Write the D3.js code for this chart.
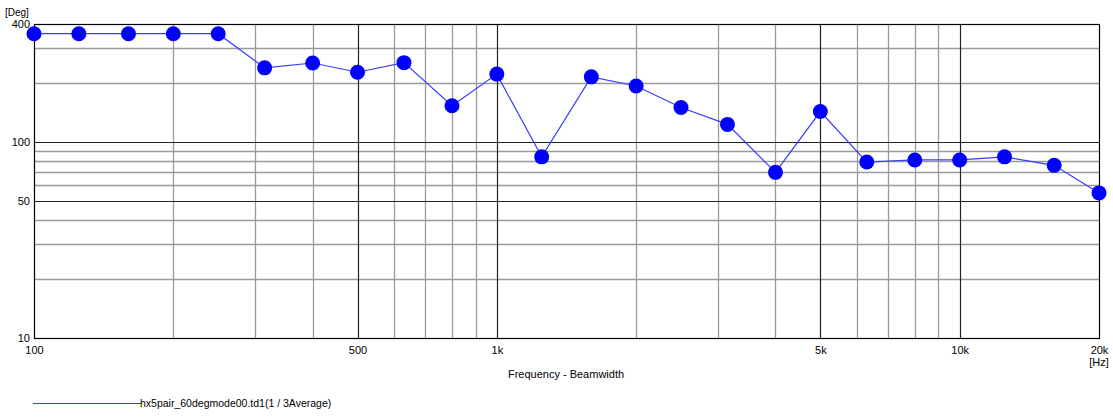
<!DOCTYPE html>
<html><head><meta charset="utf-8">
<script src="https://cdn.jsdelivr.net/npm/d3@7"></script>
<style>body{margin:0;background:#fff}svg{display:block}text{font-family:"Liberation Sans",Arial,sans-serif;font-size:11px;fill:#000}</style>
</head><body><svg id="c" width="1113" height="418"></svg>
<script>
const freqs = [100,125,160,200,250,315,400,500,630,800,1000,1250,1600,2000,2500,3150,4000,5000,6300,8000,10000,12500,16000,20000];
const beamwidth = [357,357,357,357,357,239,253,227,254,153,222,84,215,193,150,123,70,143,79,81,81,84,76,55];
const xTickValues = [100,500,1000,5000,10000,20000];
const xTickLabels = ["100","500","1k","5k","10k","20k"];
const yTickValues = [10,50,100,400];
const yTickLabels = ["10","50","100","400"];
const xMinorGrid = [200,300,400,600,700,800,900,2000,3000,4000,6000,7000,8000,9000];
const xMajorGrid = [500,1000,5000,10000];
const yMinorGrid = [20,30,40,60,70,80,90,200,300];
const yMajorGrid = [50,100];
const seriesName = "hx5pair_60degmode00.td1(1 / 3Average)";

const svg = d3.select("#c");
const L=34,R=1099,T=24,B=338;
const x = d3.scaleLog().domain([100,20000]).range([L,R]);
const y = d3.scaleLog().domain([10,400]).range([B,T]);

const g = svg.append("g");
g.selectAll(".vmin").data(xMinorGrid).join("line").attr("x1",d=>Math.round(x(d))+0.5).attr("x2",d=>Math.round(x(d))+0.5).attr("y1",T).attr("y2",B).attr("stroke","#9a9a9a").attr("stroke-width",1.3);
g.selectAll(".hmin").data(yMinorGrid).join("line").attr("y1",d=>Math.round(y(d))+0.5).attr("y2",d=>Math.round(y(d))+0.5).attr("x1",L).attr("x2",R).attr("stroke","#9a9a9a").attr("stroke-width",1.3);
g.selectAll(".vmaj").data(xMajorGrid).join("line").attr("x1",d=>Math.round(x(d))+0.5).attr("x2",d=>Math.round(x(d))+0.5).attr("y1",T).attr("y2",B).attr("stroke","#222").attr("stroke-width",1.2);
g.selectAll(".hmaj").data(yMajorGrid).join("line").attr("y1",d=>Math.round(y(d))+0.5).attr("y2",d=>Math.round(y(d))+0.5).attr("x1",L).attr("x2",R).attr("stroke","#222").attr("stroke-width",1.2);
svg.append("rect").attr("x",L+0.5).attr("y",T+0.5).attr("width",R-L).attr("height",B-T).attr("fill","none").attr("stroke","#000").attr("stroke-width",1.2);

const xAxis = d3.axisBottom(x).tickValues(xTickValues).tickSize(0).tickPadding(8).tickFormat((d,i)=>xTickLabels[i]);
const xa = svg.append("g").attr("transform",`translate(0,${B})`).call(xAxis);
xa.select(".domain").remove();
xa.selectAll("text").style("font-family",'"Liberation Sans",Arial,sans-serif').style("font-size","11px").attr("fill","#000");
const yAxis = d3.axisLeft(y).tickValues(yTickValues).tickSize(0).tickPadding(4).tickFormat((d,i)=>yTickLabels[i]);
const ya = svg.append("g").attr("transform",`translate(${L},0)`).call(yAxis);
ya.select(".domain").remove();
ya.selectAll("text").style("font-family",'"Liberation Sans",Arial,sans-serif').style("font-size","11px").attr("fill","#000");

svg.append("text").attr("x",5).attr("y",16).style("font-size","10px").text("[Deg]");
svg.append("text").attr("x",1099).attr("y",366).attr("text-anchor","middle").text("[Hz]");
svg.append("text").attr("x",566).attr("y",378).attr("text-anchor","middle").text("Frequency - Beamwidth");

const line = d3.line().x((d,i)=>x(freqs[i])).y(d=>y(d));
svg.append("path").datum(beamwidth).attr("d",line).attr("fill","none").attr("stroke","#3a3aff").attr("stroke-width",1.2);
svg.selectAll(".pt").data(beamwidth).join("circle").attr("cx",(d,i)=>x(freqs[i])).attr("cy",d=>y(d)).attr("r",7.5).attr("fill","#0000ff");

svg.append("line").attr("x1",33).attr("x2",141).attr("y1",403.5).attr("y2",403.5).attr("stroke","#3a3aff").attr("stroke-width",1.2);
svg.append("text").attr("x",140).attr("y",407).style("font-size","10.5px").text(seriesName);
</script></body></html>
